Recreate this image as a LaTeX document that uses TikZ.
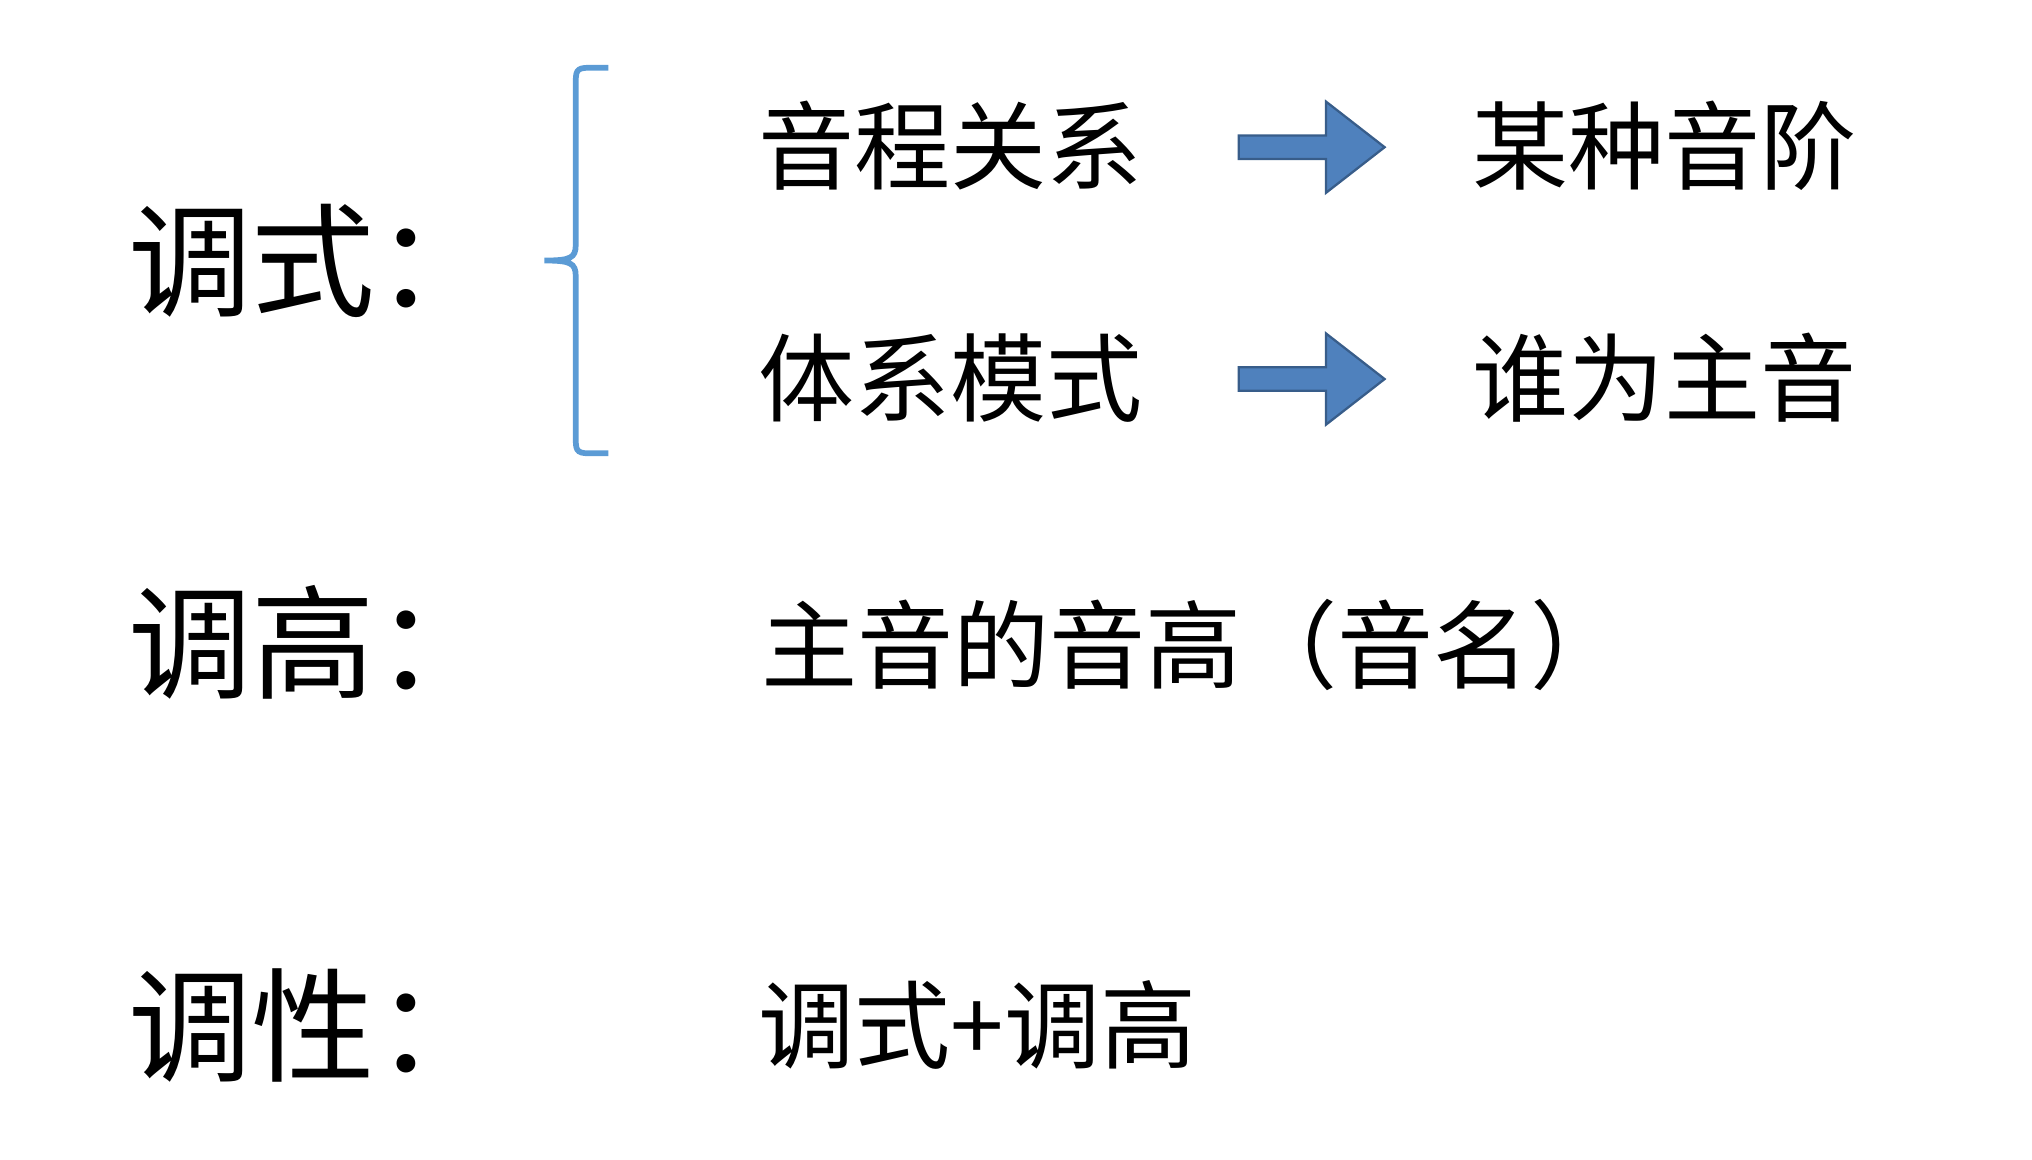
\documentclass[tikz,border=0pt]{standalone}
\usepackage{fontspec}
\newfontfamily\cjk{Noto Sans CJK SC}
\begin{document}
\begin{tikzpicture}[x=0.02cm,y=-0.02cm,
  big/.style={anchor=west,inner sep=0,font=\cjk\fontsize{54}{60}\selectfont},
  mid/.style={anchor=west,inner sep=0,font=\cjk\fontsize{42}{48}\selectfont},
  arr/.style={fill={rgb,255:red,79;green,129;blue,189},draw={rgb,255:red,56;green,93;blue,138},line width=1pt}]
\useasboundingbox (0,0) rectangle (1560,890);
\node[big] (a) at (98,200) {调式：};
\node[big] (b) at (98,493) {调高：};
\node[big] (c) at (98,787) {调性：};
\draw[line width=2.5pt,draw={rgb,255:red,91;green,155;blue,213}] (467,52) -- (452,52) .. controls (442,52) and (442,55) .. (442,65) -- (442,188) .. controls (442,198) and (438,200) .. (418,200) .. controls (438,200) and (442,202) .. (442,212) -- (442,335) .. controls (442,345) and (442,348) .. (452,348) -- (467,348);
\node[mid] (d) at (582,112) {音程关系};
\node[mid] (e) at (582,290) {体系模式};
\node[mid] (f) at (1130,112) {某种音阶};
\node[mid] (g) at (1130,290) {谁为主音};
\node[mid] (h) at (584,495) {主音的音高（音名）};
\node[mid] (i) at (582,787) {调式+调高};
\foreach \yy/\n in {113/p,291/q}{
\draw[arr] (951,\yy-9) -- (1018,\yy-9) -- (1018,\yy-35) -- (1063,\yy) -- (1018,\yy+35) -- (1018,\yy+9) -- (951,\yy+9) -- cycle;
}
\end{tikzpicture}
\end{document}
